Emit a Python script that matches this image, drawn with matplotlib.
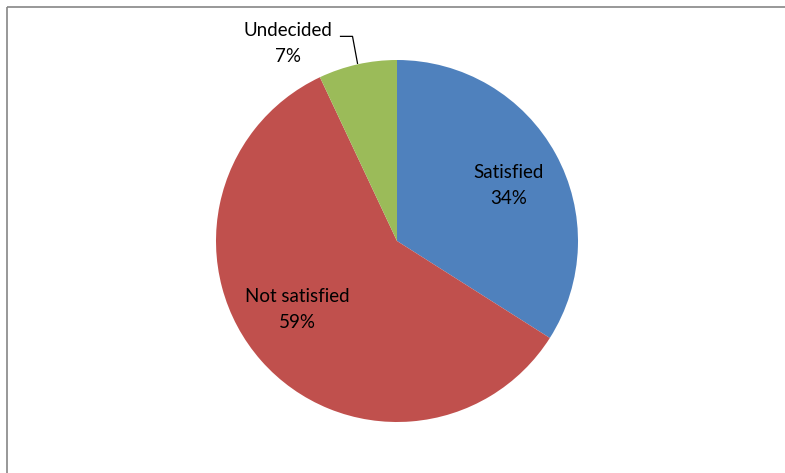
import numpy as np
import matplotlib
matplotlib.use("Agg")
import matplotlib.pyplot as plt

categories = ["Satisfied", "Not satisfied", "Undecided"]
shares = [34, 59, 7]
colors = ["#4F81BD", "#C0504D", "#9BBB59"]

plt.rcParams['font.family'] = ['Lato', 'DejaVu Sans']

fig = plt.figure(figsize=(7.85, 4.73), dpi=100)
ax = fig.add_axes([0, 0, 1, 1])

cx, cy, r = 397, 232, 181
wedges, _ = ax.pie(shares, colors=colors, startangle=90, counterclock=False,
                   radius=r, center=(cx, cy), frame=True,
                   wedgeprops=dict(linewidth=0))
ax.set_xlim(0, 785)
ax.set_ylim(0, 473)
ax.set_aspect('equal')
ax.axis('off')

# chart area frame (cropped at right and bottom)
ax.plot([6.5, 6.5], [0, 466.5], color='#868686', lw=1.2, solid_capstyle='butt')
ax.plot([6.5, 785], [466.5, 466.5], color='#868686', lw=1.2, solid_capstyle='butt')

fs = 13.5
ls = 1.6
# in-slice label placement: (angle shift in degrees, fraction of radius)
inside_pos = {"Satisfied": (-2.5, 0.69), "Not satisfied": (-7, 0.67)}
for w, name, val in zip(wedges, categories, shares):
    mid = np.deg2rad((w.theta1 + w.theta2) / 2)
    label = f"{name}\n{val}%"
    if name in inside_pos:
        shift, dist = inside_pos[name]
        ang = mid + np.deg2rad(shift)
        tx = cx + dist * r * np.cos(ang)
        ty = cy + dist * r * np.sin(ang)
        ax.text(tx, ty, label, ha='center', va='center', fontsize=fs,
                linespacing=ls, color='black')
    else:
        # outside label with leader line
        ex = cx + r * np.cos(mid)
        ey = cy + r * np.sin(mid)
        tx, ty = ex - 70, ey + 21
        ax.text(tx, ty, label, ha='center', va='center', fontsize=fs,
                linespacing=ls, color='black')
        ax.plot([ex - 17, ex - 5, ex], [ey + 28, ey + 28, ey + 1],
                color='black', lw=0.9)

fig.savefig("out.png", dpi=100)
